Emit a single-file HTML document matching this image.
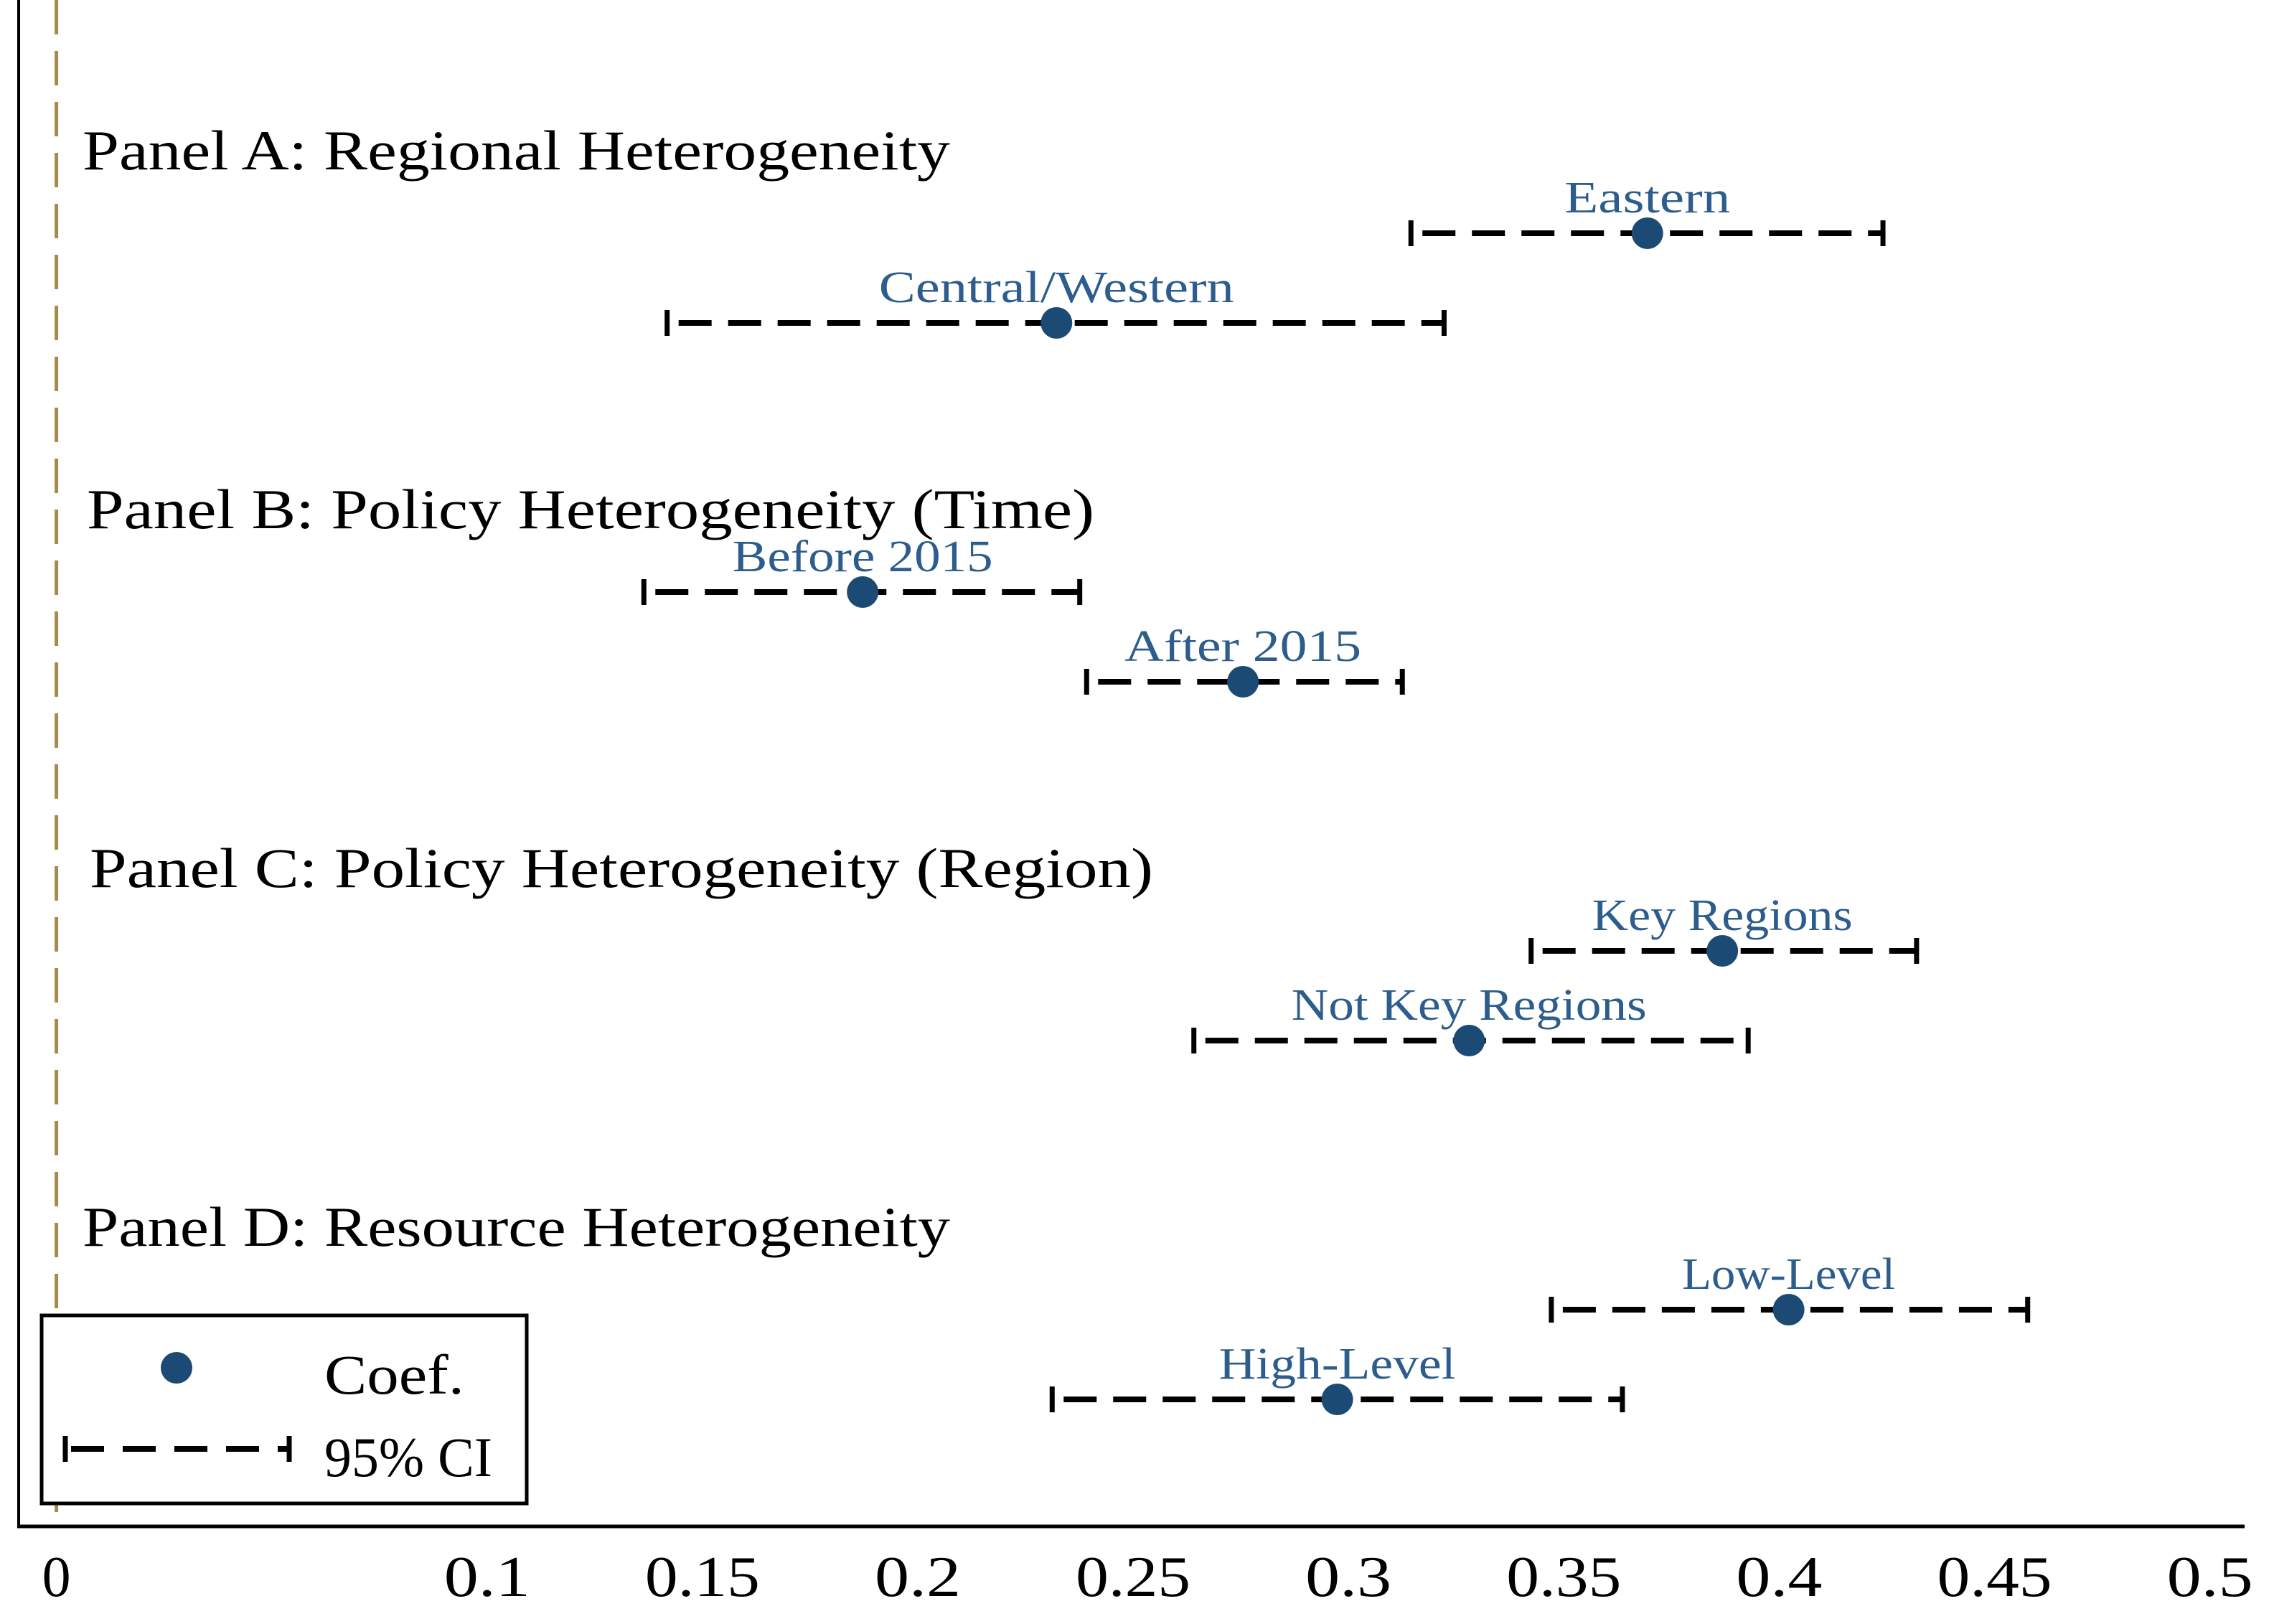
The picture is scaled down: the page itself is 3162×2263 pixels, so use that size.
<!DOCTYPE html>
<html><head><meta charset="utf-8"><style>
html,body{margin:0;padding:0;background:#fff;}
svg{display:block;}
text{font-family:"Liberation Serif","Noto Serif CJK SC",serif;}
</style></head>
<body>
<svg id="chart" width="3162" height="2263" viewBox="0 0 3162 2263" xmlns="http://www.w3.org/2000/svg">
  <rect width="3162" height="2263" fill="#fff"/>
  <g id="marks"></g>
</svg>
<script>
const panelTitles = ["Panel A: Regional Heterogeneity","Panel B: Policy Heterogeneity (Time)","Panel C: Policy Heterogeneity (Region)","Panel D: Resource Heterogeneity"];
const categories = ["Eastern","Central/Western","Before 2015","After 2015","Key Regions","Not Key Regions","Low-Level","High-Level"];
const coefs = [0.3694,0.2322,0.1872,0.2755,0.3868,0.3280,0.4022,0.2974];
const ciLow = [0.3145,0.1418,0.1364,0.2392,0.3424,0.2641,0.3471,0.2312];
const ciHigh = [0.4241,0.3222,0.2376,0.3125,0.4319,0.3928,0.4577,0.3636];
const tickValues = [0,0.1,0.15,0.2,0.25,0.3,0.35,0.4,0.45,0.5];
const tickLabels = ["0","0.1","0.15","0.2","0.25","0.3","0.35","0.4","0.45","0.5"];

const NS="http://www.w3.org/2000/svg";
const g=document.getElementById('marks');
const X0=78.6, XS=6002;
function xs(v){return X0+v*XS;}
function ys(i){const p=Math.floor(i/2), s=i%2; return 325+p*500+s*125;}
function mk(tag,attrs,parent){const e=document.createElementNS(NS,tag);for(const k in attrs)e.setAttribute(k,attrs[k]);(parent||g).appendChild(e);return e;}

let e;
e=mk('line',{x1:26,y1:0,x2:26,y2:2128,stroke:'#000','stroke-width':4});


e=mk('line',{x1:24,y1:2127,x2:3128,y2:2127,stroke:'#000','stroke-width':5});


e=mk('line',{x1:xs(0),y1:0,x2:xs(0),y2:2125,stroke:'#a58c4e','stroke-width':5,'stroke-dasharray':'48 23'});



tickValues.forEach((v,i)=>{
  const t=mk('text',{x:xs(v),y:2224,'font-size':80,'text-anchor':'middle',fill:'#000',textLength:tickLabels[i].length*40,lengthAdjust:'spacingAndGlyphs'});
  t.textContent=tickLabels[i];
  
  
});

const titleX=[115,121,125,115];
panelTitles.forEach((s,p)=>{
  const t=mk('text',{x:titleX[p],y:236+p*500,'font-size':78,fill:'#000',textLength:s.length*39,lengthAdjust:'spacingAndGlyphs'});
  t.textContent=s;
  
  
});

categories.forEach((c,i)=>{
  const y=ys(i), a=xs(ciLow[i]), b=xs(ciHigh[i]), m=xs(coefs[i]);
  const grp=mk('g',{});
  
  
  const l=mk('line',{x1:a,y1:y,x2:b,y2:y,stroke:'#000','stroke-width':8,'stroke-dasharray':'46 23','stroke-dashoffset':-16},grp);
  
  
  const c1=mk('line',{x1:a,y1:y-18,x2:a,y2:y+18,stroke:'#000','stroke-width':7},grp);
  
  
  const c2=mk('line',{x1:b,y1:y-18,x2:b,y2:y+18,stroke:'#000','stroke-width':7},grp);
  
  
  const pt=mk('circle',{cx:m,cy:y,r:22,fill:'#1b4a74'},grp);
  
  
  const t=mk('text',{x:m,y:y-29,'font-size':62,'text-anchor':'middle',fill:'#2d5d8c',textLength:c.length*33,lengthAdjust:'spacingAndGlyphs'},grp);
  t.textContent=c;
  
  
});

const lg=mk('g',{});


mk('rect',{x:58,y:1833,width:676,height:262,fill:'#fff',stroke:'#000','stroke-width':5},lg);
const ld=mk('circle',{cx:246,cy:1906,r:22,fill:'#1b4a74'},lg);


const lt1=mk('text',{x:452,y:1942,'font-size':78,fill:'#000',textLength:195,lengthAdjust:'spacingAndGlyphs'},lg);
lt1.textContent='Coef.';


const ll=mk('line',{x1:91,y1:2019,x2:403,y2:2019,stroke:'#000','stroke-width':8,'stroke-dasharray':'46 26','stroke-dashoffset':-8},lg);


mk('line',{x1:91,y1:2001,x2:91,y2:2037,stroke:'#000','stroke-width':7},lg);
mk('line',{x1:403,y1:2001,x2:403,y2:2037,stroke:'#000','stroke-width':7},lg);
const lt2=mk('text',{x:452,y:2057,'font-size':78,fill:'#000',textLength:234,lengthAdjust:'spacingAndGlyphs'},lg);
lt2.textContent='95% CI';


</script>
</body></html>
